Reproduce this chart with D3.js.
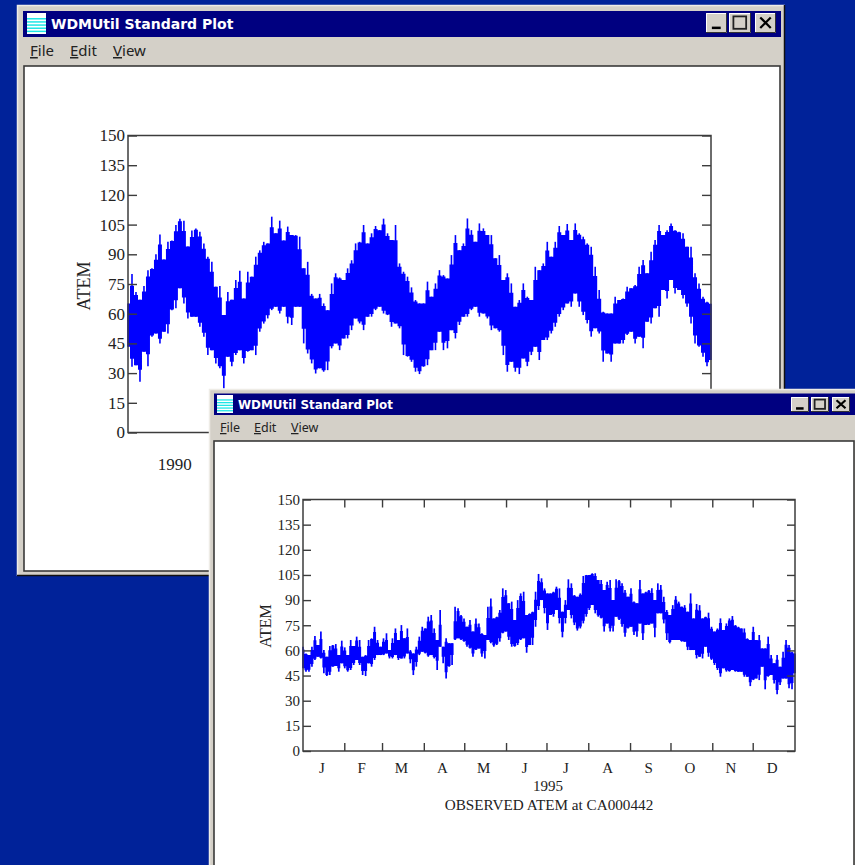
<!DOCTYPE html>
<html><head><meta charset="utf-8">
<script src="https://cdn.jsdelivr.net/npm/d3@7/dist/d3.min.js"></script>
<style>html,body{margin:0;padding:0;background:#002299;overflow:hidden}svg{display:block}</style>
</head><body><div id="chart"></div>
<script>
const windowTitle = "WDMUtil Standard Plot";
const menuItems = ["File", "Edit", "View"];
const yTicks = [0,15,30,45,60,75,90,105,120,135,150];
const yLabel = "ATEM";
const topYearLabel = "1990";
const bottomYearLabel = "1995";
const bottomCaption = "OBSERVED ATEM at CA000442";
const monthLabels = ["J","F","M","A","M","J","J","A","S","O","N","D"];
const monthDays = [31,28,31,30,31,30,31,31,30,31,30,31];

// 1990-1995 daily envelope (upper and lower edge of the trace)
const topHigh = [65.2,80,71,67,74,82,83,90,100,87.4,96.3,97,104.8,108,107,94,102,103,101.4,95.5,88.8,86.2,73.6,74,59.3,71,67,77,81.7,67.7,81.2,78.7,88.8,92,96.3,95.5,109,100.6,107,97,104,99.7,99.7,98.9,82.9,86.2,70,67.7,70,65.2,61.8,75.3,80.4,78.3,77,82.9,87,95.5,96.3,104.8,95.5,100.6,104.3,102.2,108,100.6,97.2,104.8,85.4,81.2,78.7,
73.3,66.9,65.2,65.2,76.2,68.6,75.3,82,79.5,77.8,89.6,99.7,92.1,95.5,108.1,102.2,96.3,105.6,103.1,99.7,99.7,88,89.6,77,80.4,75.3,63.5,66.9,75.3,68.6,66.9,83.7,82,85.4,96.3,88.8,96.3,104.3,99.7,105.3,97.2,105.6,100.6,98.9,95.5,93.8,83.7,72,61,60.1,60.1,68.6,66.9,67.7,73.6,72.8,74.5,83.7,87.1,80.4,91.3,97.2,104.8,99.7,102.2,105.6,102.2,101.4,100.6,93.8,93.8,80.4,75.3,68.6,66,65];
const topLow = [43.3,33.2,34,25.6,40.8,33.5,48.4,50,45,50.9,50,61.8,62.7,72.8,65.2,57.6,58.5,58.5,53.4,48.4,39.1,41.6,34.9,32.4,22.3,38.3,33.5,39.1,41.6,34.9,40.8,41.6,39.1,50.9,55,57.6,61.8,63.5,60.1,63.5,55.1,54.3,63.5,63.5,45,39.9,34.9,29.8,32.4,30.7,31.5,42.5,45,41.6,47.5,47.5,51.7,57.6,55.1,51.7,58.5,58.5,61.8,63.5,60.1,59.3,53.4,55.1,52.6,39.1,38.3,
35.7,30.7,29.5,33.2,34,41.6,41.6,50.9,41.6,42.5,51.7,47.5,54.3,58.5,58.5,61.8,63.5,58.5,60.1,57.6,51.7,52.6,50.9,39.1,30.7,35.7,30.7,29.5,37.4,33.5,39.1,43.3,36.6,46.7,46.7,50,53.4,58.5,61.8,65.2,63.5,70.2,63.5,59.3,55.1,48.4,52.6,50,35.7,39.9,35.7,45,45,45,49.2,50.9,45,48.4,42.5,55.9,55.1,62.7,58.5,72,67.7,77,70.2,72,67.7,63.5,55.1,45,43.3,38.3,33.5,36.6];

// 1995 envelope
const bottomHigh = [62.2,58.2,57.2,62.2,68.6,63.2,71.2,60.2,56.2,62.6,63.2,63.8,57.2,65.8,61.8,57.2,66.2,62.6,68.2,66.2,56.2,57.2,66.2,67.2,74.1,66.2,62.2,67.2,70.2,60.2,67.2,73.1,66.2,75.1,67.2,73.1,60.2,58.2,62.2,68.2,74.1,73.1,80.1,81.1,73.1,66.2,84.1,62.2,67.2,64.2,64.2,86.1,85.1,81.1,79.1,74.1,78.1,71.2,79.1,76.1,70.2,69.2,86.1,91,79.1,80.1,84.1,97,96,88.1,89.1,78.1,90,94,95,81.1,82.1,83.1,95,105.6,103,97,94,
94,95,98,97,83.1,90,102.4,100,93,92,94,104.4,105,105,106,106,102,102,96,101,102,90,102.4,102,100,96,92,97,89.1,88.1,102,94,95,96,97,90,100,99,92,84.1,81.1,87,92.4,89.1,86.1,87,83.1,94,79.1,87.7,87,79.1,80.1,82.5,74.1,71.2,73.1,79.1,72.2,76.1,79.1,80.5,75.1,74.1,73.1,73.1,67.2,66.2,74.1,66.2,69.2,61.2,61.2,68.2,57.2,52.3,57.2,50.3,59.2,66.2,63.2,59.2,58.2];
const bottomLow = [49.3,47.3,47.3,50.3,54.3,56.2,55.2,46.3,44.7,45.3,50.3,50.7,47.3,52.3,49.3,47.3,48.3,51.3,54.3,51.3,45.3,44.7,52.3,50.3,54.3,57.2,57.2,57.2,58.2,55.2,55.2,57.2,54.3,55.2,55.2,58.2,52.3,45.3,50.3,57.2,59.2,58.2,56.2,57.2,55.2,48.3,62.2,52.3,43.3,50.3,51.3,66.2,67.2,66.2,65.2,62.2,61.2,56.2,60.2,61.2,56.2,55.2,66.2,64.2,62.2,63.2,65.2,70.2,71.2,66.2,62.2,62.2,63.2,66.2,67.2,58.6,63.2,63.2,74.1,84.1,90,82.1,72.2,
81.1,80.1,84.1,76.1,67.8,76.1,84.1,79.1,75.1,71.8,73.1,76.1,80.1,84.1,87.1,82.1,80.1,79.1,71.2,76.1,71.2,71.2,80.1,78.1,74.1,68.2,73.1,74.1,69.2,68.2,76.1,66.2,75.1,75.1,76.1,67.8,82.1,82.1,76.1,66.2,64.2,66.2,66.2,66.2,65.2,65.2,60.2,60.2,60.2,55.2,56.2,55.2,62.2,56.2,54.3,51.3,48.3,44.3,49.3,47.3,47.3,48.3,47.3,47.3,47.3,44.3,44.3,38.7,42.3,43.3,42.3,50.3,36.8,44.3,45.3,40.3,33.8,39.4,43.3,43.3,37.4,36.8,46.3];

const W = 855, H = 865;
const serif = "'Liberation Serif','Times New Roman',serif";
const ui = "'DejaVu Sans',sans-serif";
const INK = "#3c3c3c", BLUE = "#0000ff", FACE = "#d4d0c8", NAVY = "#000080";

const svg = d3.select("#chart").append("svg").attr("width", W).attr("height", H);
const defs = svg.append("defs");
defs.append("filter").attr("id","soft").attr("x","-5%").attr("y","-5%").attr("width","110%").attr("height","110%")
  .append("feGaussianBlur").attr("stdDeviation",0.3);
svg.append("rect").attr("width",W).attr("height",H).attr("fill","#002299");

function drawWindow(g, b) {
  g.append("rect").attr("x",b.x0).attr("y",b.y0).attr("width",b.x1-b.x0).attr("height",b.y1-b.y0).attr("fill",FACE);
  g.append("path").attr("d",`M${b.x0+.5},${b.y1}V${b.y0+.5}H${b.x1}`).attr("fill","none").attr("stroke","#eeece6").attr("stroke-width",1.5);
  if (b.shadow) g.append("path").attr("d",`M${b.x0},${b.y1-.5}H${b.x1-.5}V${b.y0}`).attr("fill","none").attr("stroke","#111").attr("stroke-width",1.5);
  g.append("rect").attr("x",b.tx0).attr("y",b.ty0).attr("width",b.tx1-b.tx0).attr("height",b.ty1-b.ty0).attr("fill",NAVY);
  const ic = g.append("g");
  ic.append("rect").attr("x",b.ix).attr("y",b.iy).attr("width",b.iw).attr("height",b.ih).attr("fill","#fff");
  d3.range(5).forEach(i => ic.append("rect").attr("x",b.ix).attr("y",b.iy+b.ih*(0.24+i*0.15)).attr("width",b.iw).attr("height",b.ih*0.07).attr("fill","#19e6e6"));
  g.append("text").attr("x",b.titleX).attr("y",b.titleY).attr("fill","#fff").attr("font-family",ui)
    .attr("font-weight","bold").attr("font-size",b.titleSize).text(windowTitle);
  b.buttons.forEach((btn,i) => {
    const bg = g.append("g").attr("transform",`translate(${btn[0]},${b.by})`);
    const w = btn[1]-btn[0], h = b.bh;
    bg.append("rect").attr("width",w).attr("height",h).attr("fill",FACE);
    bg.append("path").attr("d",`M.5,${h}V.5H${w}`).attr("fill","none").attr("stroke","#fff");
    bg.append("path").attr("d",`M0,${h-.5}H${w-.5}V0`).attr("fill","none").attr("stroke","#333");
    if (i===0) bg.append("rect").attr("x",w*0.28).attr("y",h*0.68).attr("width",w*0.42).attr("height",2.5).attr("fill","#000");
    if (i===1) bg.append("rect").attr("x",w*0.2).attr("y",h*0.17).attr("width",w*0.58).attr("height",h*0.62).attr("fill","none").attr("stroke","#222").attr("stroke-width",1.8);
    if (i===2) bg.append("path").attr("d",`M${w*.25},${h*.22}L${w*.75},${h*.75}M${w*.75},${h*.22}L${w*.25},${h*.75}`).attr("stroke","#000").attr("stroke-width",2.2);
  });
  menuItems.forEach((m,i) => {
    const t = g.append("text").attr("x",b.menuX[i]).attr("y",b.menuY).attr("fill","#222").attr("font-family","'Noto Sans',sans-serif").attr("font-size",b.menuSize);
    t.append("tspan").attr("text-decoration","underline").text(m[0]);
    t.append("tspan").text(m.slice(1));
  });
  g.append("rect").attr("x",b.cx0).attr("y",b.cy0).attr("width",b.cx1-b.cx0).attr("height",b.cy1-b.cy0)
    .attr("fill","#fff").attr("stroke","#3a3a3a").attr("stroke-width",1.6);
}

function drawPlot(g, p, xScale, times, high, low) {
  const y = d3.scaleLinear().domain([0,150]).range([p.bottom,p.top]);
  const mark = g.append("g").attr("filter","url(#soft)");
  const around = (a,i) => a.slice(Math.max(0,i-1),i+2);
  const rows = times.map((t,i) => ({t, hi:high[i], lo:low[i],
    coreHi:(high[i]*p.keep + d3.min(around(high,i))*(1-p.keep)),
    coreLo:(low[i]*p.keep + d3.max(around(low,i))*(1-p.keep))}));
  mark.append("path").attr("fill",BLUE).attr("d",
    d3.area().curve(d3.curveStep).x(d=>xScale(d.t)).y0(d=>y(d.coreLo)).y1(d=>y(d.coreHi))(rows));
  mark.append("g").attr("stroke",BLUE).attr("stroke-width",p.stem).selectAll("line").data(rows).join("line")
    .attr("x1",d=>xScale(d.t)).attr("x2",d=>xScale(d.t)).attr("y1",d=>y(d.lo)).attr("y2",d=>y(d.hi));

  const style = sel => { sel.select(".domain").remove();
    sel.selectAll("line").attr("stroke",INK).attr("stroke-width",1.4);
    sel.selectAll("text").attr("font-family",serif).attr("font-size",p.font).attr("fill","#222"); };
  g.append("g").attr("transform",`translate(${p.left},0)`)
    .call(d3.axisLeft(y).tickValues(yTicks).tickSize(-p.tick).tickPadding(p.pad).tickFormat(d3.format("d"))).call(style);
  g.append("g").attr("transform",`translate(${p.right},0)`)
    .call(d3.axisRight(y).tickValues(yTicks).tickSize(-p.tick).tickFormat("")).call(style);
  g.append("rect").attr("x",p.left).attr("y",p.top).attr("width",p.right-p.left).attr("height",p.bottom-p.top)
    .attr("fill","none").attr("stroke",INK).attr("stroke-width",1.5);
  g.append("text").attr("transform",`translate(${p.ylx},${p.yly}) rotate(-90)`)
    .attr("text-anchor","middle").attr("font-family",serif).attr("font-size",p.ylFont).attr("fill","#222").text(yLabel);
}

// ---- top window (1990-1995)
const gTop = svg.append("g");
drawWindow(gTop, {x0:17,y0:5,x1:785,y1:576,shadow:true,tx0:23,ty0:11,tx1:781,ty1:37,
  ix:27,iy:13,iw:19,ih:21,titleX:51,titleY:29,titleSize:14,
  buttons:[[706,727],[729,751],[755,776]],by:13,bh:20,
  menuX:[30,70,113],menuY:56,menuSize:15,cx0:24,cy0:66,cx1:780,cy1:571});
const topX = d3.scaleLinear().domain([0,6]).range([128,711]);
const topTimes = topHigh.map((_,i)=> i*6/(topHigh.length-1));
drawPlot(gTop,{left:128,right:711,top:135.5,bottom:432.5,tick:9,pad:3,font:17,ylFont:18,ylx:90,yly:286,stem:1.6,keep:0.6},topX,topTimes,topHigh,topLow);
gTop.append("text").attr("x",topX(0.48)).attr("y",470).attr("text-anchor","middle").attr("font-family",serif).attr("font-size",17).attr("fill","#222").text(topYearLabel);

// ---- bottom window (1995)
const gBot = svg.append("g");
drawWindow(gBot, {x0:209,y0:389,x1:857,y1:870,shadow:false,tx0:214,ty0:393.5,tx1:855,ty1:415,
  ix:217,iy:395,iw:16,ih:18,titleX:238,titleY:409,titleSize:11.9,
  buttons:[[791,809],[811,829],[832,850]],by:397,bh:15,
  menuX:[220,254,291],menuY:432,menuSize:12.5,cx0:214,cy0:441,cx1:854,cy1:870});
const yearDays = d3.sum(monthDays);
const botX = d3.scaleLinear().domain([0,yearDays]).range([303,795]);
const botTimes = bottomHigh.map((_,i)=> i*yearDays/(bottomHigh.length-1));
drawPlot(gBot,{left:303,right:795,top:499.5,bottom:751,tick:8,pad:3,font:15,ylFont:16,ylx:271,yly:626,stem:1.7,keep:0.6},botX,botTimes,bottomHigh,bottomLow);
const starts = d3.cumsum([0].concat(monthDays.slice(0,11)));
const monthTicks = Array.from(starts).slice(1);
const gB = gBot.append("g");
gB.selectAll("line.b").data(monthTicks).join("line").attr("class","b")
  .attr("x1",d=>botX(d)).attr("x2",d=>botX(d)).attr("y1",751).attr("y2",743).attr("stroke",INK).attr("stroke-width",1.4);
gB.selectAll("line.t").data(monthTicks).join("line").attr("class","t")
  .attr("x1",d=>botX(d)).attr("x2",d=>botX(d)).attr("y1",499.5).attr("y2",507.5).attr("stroke",INK).attr("stroke-width",1.4);
gB.selectAll("text.m").data(monthLabels).join("text").attr("class","m")
  .attr("x",(d,i)=>botX(starts[i]+monthDays[i]/2)-2).attr("y",773).attr("text-anchor","middle")
  .attr("font-family",serif).attr("font-size",15).attr("fill","#222").text(d=>d);
gB.append("text").attr("x",548).attr("y",791).attr("text-anchor","middle").attr("font-family",serif).attr("font-size",15).attr("fill","#222").text(bottomYearLabel);
gB.append("text").attr("x",549).attr("y",810).attr("text-anchor","middle").attr("font-family",serif).attr("font-size",15.2).attr("fill","#222").text(bottomCaption);
</script></body></html>
